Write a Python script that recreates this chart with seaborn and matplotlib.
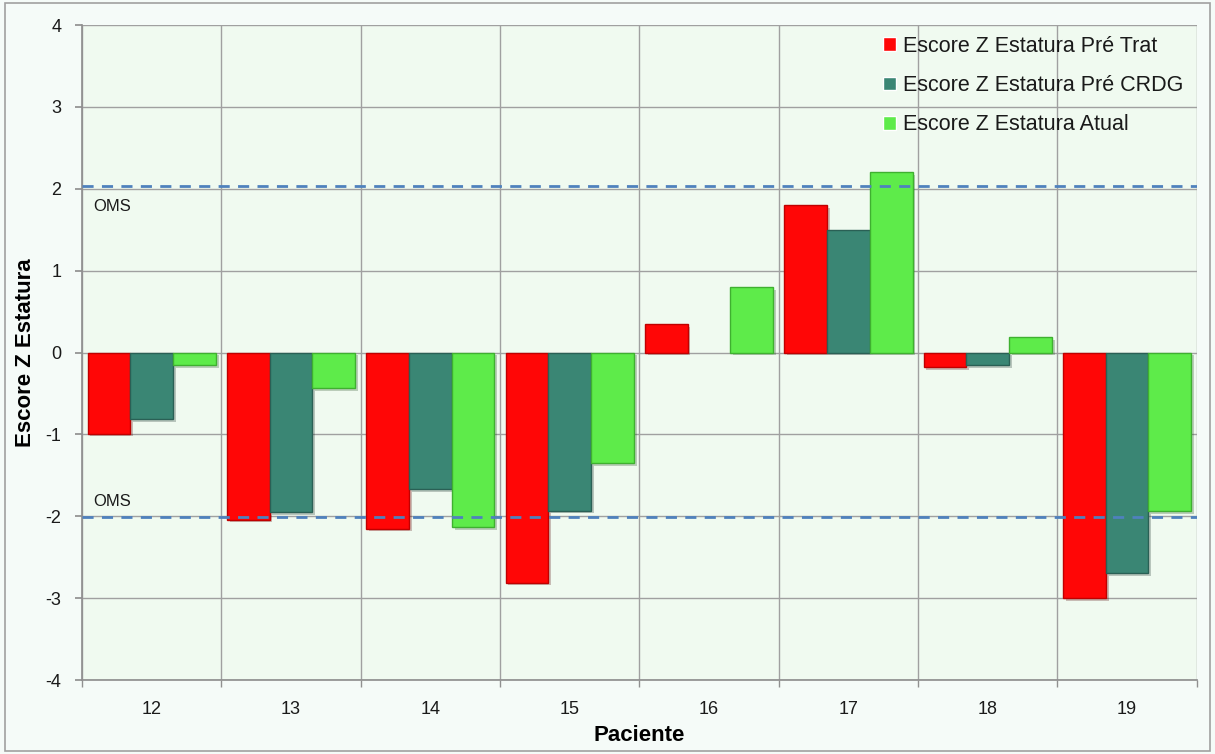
import numpy as np
import pandas as pd
import matplotlib
matplotlib.use("Agg")
import matplotlib.pyplot as plt
import matplotlib.patheffects as pe
from matplotlib.ticker import MultipleLocator, FixedLocator
import seaborn as sns

# Height Z-scores per patient
pacientes = ["12", "13", "14", "15", "16", "17", "18", "19"]
pre_trat = [-0.99, -2.04, -2.15, -2.81, 0.35, 1.80, -0.18, -3.00]
pre_crdg = [-0.81, -1.95, -1.67, -1.93, np.nan, 1.50, -0.15, -2.69]
atual = [-0.15, -0.43, -2.13, -1.35, 0.80, 2.20, 0.19, -1.94]

series_names = ["Escore Z Estatura Pré Trat",
                "Escore Z Estatura Pré CRDG",
                "Escore Z Estatura Atual"]
oms_sup = 2.04
oms_inf = -2.01

df = pd.DataFrame({
    "Paciente": pacientes * 3,
    "Escore": pre_trat + pre_crdg + atual,
    "Serie": [series_names[0]] * 8 + [series_names[1]] * 8 + [series_names[2]] * 8,
})

sns.set_theme(style="white")
plt.rcParams["font.family"] = ["Liberation Sans", "DejaVu Sans"]
plt.rcParams["axes.unicode_minus"] = False

fill = ["#FF0606", "#3A8674", "#5EEB4A"]
edges = ["#C00000", "#2A6055", "#3FB030"]
text_color = "#1A1A1A"

fig = plt.figure(figsize=(12.15, 7.54), dpi=100, facecolor="#F5FBF8")
ax = fig.add_axes([0.0675, 0.0981, 0.9175, 0.8687])
ax.set_facecolor("#F0FAF0")

sns.barplot(data=df, x="Paciente", y="Escore", hue="Serie",
            order=pacientes, hue_order=series_names,
            palette=fill, saturation=1, width=0.92, ax=ax, zorder=3, legend=True)

for cont, ec in zip(ax.containers, edges):
    for bar in cont:
        bar.set_edgecolor(ec)
        bar.set_linewidth(1.0)
        bar.set_path_effects([pe.SimplePatchShadow(offset=(2, -2), alpha=0.25),
                              pe.Normal()])

ax.set_xlim(-0.5, len(pacientes) - 0.5)
ax.set_ylim(-4, 4)
ax.yaxis.set_major_locator(MultipleLocator(1))
ax.xaxis.set_minor_locator(FixedLocator(np.arange(-0.5, len(pacientes), 1.0)))

ax.grid(axis="y", which="major", color="#A0A0A0", linewidth=1.0, zorder=0)
ax.grid(axis="x", which="minor", color="#A0A0A0", linewidth=1.0, zorder=0)
ax.set_axisbelow(True)

ax.axhline(oms_sup, color="#4F81BD", linestyle=(0, (4, 3)), linewidth=2, zorder=4)
ax.axhline(oms_inf, color="#4F81BD", linestyle=(0, (4, 3)), linewidth=2, zorder=4)
ax.text(-0.42, oms_sup - 0.16, "OMS", fontsize=12, color=text_color, va="top", ha="left")
ax.text(-0.42, oms_inf + 0.1, "OMS", fontsize=12, color=text_color, va="bottom", ha="left")

for side in ["top", "right"]:
    ax.spines[side].set_visible(False)
ax.spines["left"].set_color("#909090")
ax.spines["bottom"].set_color("#909090")

ax.tick_params(axis="y", which="major", length=5, color="#909090", left=True,
               labelsize=13, pad=10, labelcolor=text_color)
ax.tick_params(axis="x", which="major", length=0, labelsize=13, pad=15,
               labelcolor=text_color)
ax.tick_params(axis="x", which="minor", length=5, color="#909090", bottom=True)

ax.set_xlabel("Paciente", fontsize=16, fontweight="bold", color="black")
ax.set_ylabel("Escore Z Estatura", fontsize=16, fontweight="bold", color="black")
ax.xaxis.set_label_coords(0.5, -0.068)
ax.yaxis.set_label_coords(-0.041, 0.5)

leg = ax.legend(loc="upper right", bbox_to_anchor=(0.998, 1.0), frameon=False,
                fontsize=15.5, handlelength=0.6, handleheight=0.6,
                handletextpad=0.35, labelspacing=0.85, borderaxespad=0.1)
for t in leg.get_texts():
    t.set_color(text_color)

# Outer frame
fig.patches.append(plt.Rectangle((0.004, 0.004), 0.992, 0.992, transform=fig.transFigure,
                                 fill=False, edgecolor="#A0A0A0", linewidth=1.2))

fig.savefig("out.png", dpi=100, facecolor=fig.get_facecolor())
